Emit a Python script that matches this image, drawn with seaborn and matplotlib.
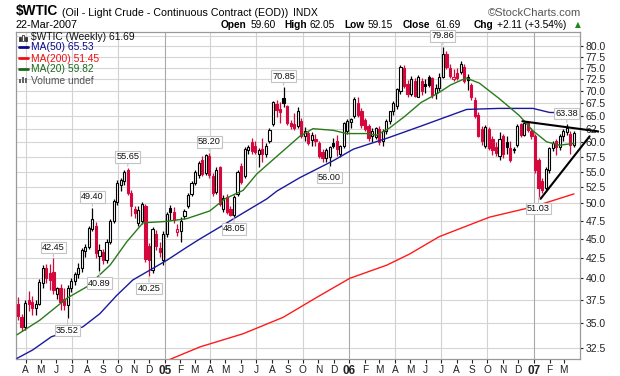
import numpy as np
import pandas as pd
import matplotlib
matplotlib.use('Agg')
import matplotlib.pyplot as plt
import matplotlib.dates as mdates
import seaborn as sns

# ---------------- data ----------------
first_week = '2004-03-17'
prev_close_first = 37.6
open_ = [37.1, 35.6, 34.6, 37.5, 37.3, 36.6, 37.0, 39.4, 41.2, 40.6,
         40.8, 38.2, 38.8, 37.6, 36.9, 38.9, 39.7, 40.5, 41.2, 43.4,
         43.9, 46.4, 46.8, 42.8, 43.3, 42.3, 44.6, 47.5, 50.2, 52.9,
         53.5, 55.2, 51.6, 49.2, 47.2, 47.4, 49.6, 44.0, 41.0, 45.6,
         43.8, 42.2, 45.7, 49.3, 48.8, 45.9, 46.1, 48.2, 49.6, 51.5,
         53.2, 54.4, 57.0, 54.8, 57.6, 54.3, 51.7, 55.8, 49.2, 51.0,
         49.2, 48.3, 51.5, 55.9, 54.3, 58.6, 60.0, 59.3, 57.9, 58.9,
         57.9, 60.2, 63.3, 67.3, 66.2, 68.4, 66.8, 63.6, 63.3, 63.0,
         64.0, 61.1, 61.7, 60.4, 60.6, 59.9, 58.3, 57.3, 57.4, 59.9,
         60.3, 57.9, 59.4, 62.1, 63.8, 64.9, 67.4, 65.8, 64.2, 63.0,
         61.2, 61.0, 62.5, 60.2, 62.0, 63.9, 65.8, 66.8, 69.9, 75.0,
         71.4, 69.4, 72.0, 68.8, 72.0, 71.4, 73.0, 72.6, 69.6, 70.5,
         73.0, 78.0, 75.0, 72.4, 73.7, 74.1, 75.1, 73.0, 71.3, 68.0,
         65.2, 62.4, 59.4, 62.4, 60.6, 59.2, 57.6, 61.2, 60.0, 59.0,
         58.6, 59.6, 63.4, 61.4, 63.6, 62.0, 61.2, 57.0, 53.4, 52.4,
         55.2, 59.0, 60.2, 59.2, 61.2, 61.8, 61.6, 59.60]
high = [37.8, 36.0, 37.5, 38.5, 37.9, 37.5, 39.9, 41.6, 41.8, 41.7,
        42.45, 39.0, 39.3, 38.8, 39.2, 40.0, 40.8, 41.9, 43.8, 44.3,
        46.8, 49.40, 47.3, 44.3, 43.6, 45.0, 47.8, 50.6, 53.6, 54.0,
        55.3, 55.65, 52.0, 49.6, 49.6, 50.2, 49.9, 44.4, 46.6, 46.2,
        44.6, 46.0, 48.8, 49.8, 49.5, 47.0, 48.0, 49.2, 51.6, 53.4,
        55.2, 56.8, 57.6, 58.0, 58.20, 54.8, 55.8, 56.0, 51.3, 51.4,
        49.6, 51.3, 55.3, 56.4, 59.2, 59.6, 60.8, 60.2, 59.0, 60.8,
        59.8, 62.7, 67.9, 68.0, 67.6, 70.85, 67.1, 64.2, 65.5, 66.6,
        64.5, 62.8, 62.0, 61.8, 61.6, 60.3, 58.8, 59.0, 59.4, 60.8,
        61.4, 59.6, 63.8, 64.4, 64.6, 68.8, 68.6, 66.4, 64.6, 63.4,
        62.6, 62.8, 63.0, 62.4, 64.3, 65.9, 67.8, 70.6, 75.6, 75.6,
        72.2, 73.2, 72.6, 73.4, 72.8, 72.4, 73.4, 72.9, 71.4, 73.8,
        79.86, 78.8, 75.8, 74.6, 75.0, 76.6, 75.8, 73.6, 71.6, 68.6,
        65.6, 63.0, 63.2, 62.8, 61.2, 60.0, 61.8, 61.6, 61.2, 60.2,
        59.2, 63.4, 63.6, 63.8, 64.0, 62.6, 61.6, 57.2, 54.0, 55.8,
        59.2, 60.2, 60.6, 61.6, 62.4, 63.38, 62.0, 62.05]
low = [35.3, 34.2, 34.3, 36.3, 35.8, 35.8, 36.9, 38.9, 39.4, 38.6,
       38.2, 37.6, 36.4, 36.4, 35.52, 38.4, 39.2, 40.0, 40.8, 42.6,
       43.6, 46.0, 42.5, 40.89, 41.8, 41.9, 44.3, 47.2, 49.8, 51.9,
       52.8, 51.3, 48.2, 47.9, 46.8, 47.0, 42.0, 40.25, 40.6, 43.5,
       42.6, 41.6, 45.2, 47.6, 47.2, 45.4, 44.6, 47.8, 49.3, 51.2,
       52.8, 54.0, 54.2, 54.4, 54.0, 51.2, 51.4, 49.6, 48.8, 48.4,
       48.1, 48.05, 51.2, 53.0, 54.0, 58.0, 58.0, 57.9, 55.8, 56.6,
       57.5, 59.8, 63.0, 64.8, 63.6, 66.6, 63.2, 62.4, 62.2, 62.6,
       60.8, 60.2, 59.6, 59.4, 59.4, 57.2, 56.6, 56.6, 56.00, 59.0,
       57.6, 57.4, 59.0, 61.6, 62.6, 64.6, 64.8, 62.6, 62.0, 60.2,
       60.0, 60.6, 59.6, 59.4, 61.6, 63.4, 65.2, 66.3, 69.4, 70.6,
       68.8, 69.0, 68.6, 68.6, 69.2, 69.6, 70.8, 68.4, 68.2, 70.0,
       72.6, 74.6, 72.6, 72.0, 72.2, 73.6, 71.6, 70.2, 68.0, 64.6,
       61.0, 59.6, 59.0, 58.6, 57.8, 57.6, 57.0, 57.2, 58.0, 56.6,
       58.2, 59.2, 61.0, 61.2, 61.8, 60.6, 54.8, 51.03, 51.6, 52.0,
       54.8, 58.4, 57.8, 58.6, 60.2, 61.4, 58.0, 59.15]
close = [35.7, 34.6, 37.2, 37.0, 36.6, 37.0, 39.6, 41.2, 40.0, 39.8,
         38.6, 38.9, 37.3, 36.9, 38.9, 39.7, 40.5, 41.3, 43.5, 43.9,
         46.5, 47.8, 43.1, 43.5, 42.2, 44.6, 47.5, 50.3, 53.2, 53.7,
         55.0, 51.6, 49.6, 48.6, 49.1, 49.9, 42.4, 42.2, 46.3, 44.0,
         43.3, 45.6, 48.5, 48.7, 47.6, 46.4, 47.5, 48.9, 51.3, 53.1,
         54.9, 56.5, 54.6, 57.8, 54.4, 51.6, 55.3, 49.9, 50.8, 48.7,
         48.3, 51.0, 55.0, 53.3, 58.8, 59.2, 58.5, 58.3, 58.6, 57.9,
         59.3, 62.3, 67.6, 66.0, 65.6, 67.5, 63.6, 63.0, 62.6, 65.8,
         61.1, 62.0, 59.9, 61.3, 60.2, 57.6, 57.2, 58.7, 59.1, 59.4,
         58.9, 59.3, 63.5, 63.9, 64.3, 68.2, 65.2, 63.1, 62.4, 60.7,
         62.0, 62.6, 60.0, 62.0, 63.9, 65.8, 67.5, 70.4, 75.1, 70.9,
         69.4, 72.5, 69.0, 73.0, 69.9, 71.0, 71.2, 69.2, 70.5, 73.0,
         78.0, 75.2, 73.2, 73.0, 72.6, 75.7, 72.0, 72.3, 68.8, 64.9,
         61.1, 60.3, 62.8, 59.0, 58.6, 58.2, 60.6, 58.0, 59.2, 57.0,
         58.9, 63.0, 61.4, 63.5, 62.2, 61.1, 55.2, 52.3, 52.1, 55.4,
         59.0, 59.9, 59.1, 61.2, 62.0, 62.6, 59.58, 61.69]

ma50_dates = ['2004-03-15', '2004-04-15', '2004-05-22', '2004-07-23', '2004-08-26',
              '2004-09-28', '2004-10-30', '2004-12-03', '2005-01-05', '2005-02-14',
              '2005-03-12', '2005-04-20', '2005-06-05', '2005-07-22', '2005-08-11',
              '2005-09-25', '2005-11-30', '2006-01-09', '2006-03-18', '2006-05-23',
              '2006-08-21', '2006-10-24', '2006-12-30', '2007-02-01', '2007-03-21']
ma50_vals = [31.5, 32.3, 33.6, 34.6, 36.0, 38.0, 39.8, 41.0, 42.2, 43.9,
             45.0, 46.6, 48.6, 50.7, 51.9, 54.0, 56.8, 58.8, 60.8, 63.0,
             66.2, 66.4, 66.4, 65.6, 65.53]

ma200_dates = ['2005-01-06', '2005-03-12', '2005-06-05', '2005-08-23', '2005-10-29',
               '2006-01-02', '2006-03-16', '2006-04-30', '2006-06-28', '2006-10-05',
               '2006-12-30', '2007-03-21']
ma200_vals = [31.3, 32.6, 33.9, 35.6, 37.8, 40.0, 41.6, 43.0, 45.3, 48.0, 49.5, 51.45]

ma20_dates = ['2004-03-15', '2004-04-29', '2004-06-22', '2004-07-31', '2004-09-15',
              '2004-10-18', '2004-11-19', '2005-01-05', '2005-02-14', '2005-03-31',
              '2005-04-30', '2005-06-05', '2005-07-02', '2005-08-23', '2005-09-25',
              '2005-10-21', '2005-11-30', '2005-12-27', '2006-02-04', '2006-02-24',
              '2006-03-21', '2006-04-20', '2006-05-23', '2006-06-24', '2006-07-20',
              '2006-08-20', '2006-09-15', '2006-10-24', '2006-12-03', '2006-12-29',
              '2007-01-26', '2007-02-21', '2007-03-21']
ma20_vals = [33.8, 35.3, 37.7, 39.0, 41.6, 44.6, 47.2, 47.4, 47.8, 48.9,
             50.7, 52.0, 54.6, 58.5, 61.1, 62.5, 62.2, 61.6, 61.6, 61.3,
             62.6, 64.8, 67.6, 69.4, 71.2, 72.7, 71.6, 68.4, 65.0, 62.2,
             60.1, 59.5, 59.82]

trend_upper_dates = ['2006-12-09', '2007-05-08']
trend_upper_vals = [63.9, 62.0]
trend_lower_dates = ['2007-01-14', '2007-04-21']
trend_lower_vals = [50.7, 61.1]

label_bars = [10, 14, 21, 23, 31, 37, 54, 61, 75, 88, 120, 147, 155]
label_sides = ['H', 'L', 'H', 'L', 'H', 'L', 'H', 'L', 'H', 'L', 'H', 'L', 'H']

month_labels = ['A', 'M', 'J', 'J', 'A', 'S', 'O', 'N', 'D', '05', 'F', 'M',
                'A', 'M', 'J', 'J', 'A', 'S', 'O', 'N', 'D', '06', 'F', 'M',
                'A', 'M', 'J', 'J', 'A', 'S', 'O', 'N', 'D', '07', 'F', 'M']
first_month = '2004-04-01'
ytick_vals = [32.5, 35.0, 37.5, 40.0, 42.5, 45.0, 47.5, 50.0, 52.5, 55.0,
              57.5, 60.0, 62.5, 65.0, 67.5, 70.0, 72.5, 75.0, 77.5, 80.0]

# ---------------- styling ----------------
sns.set_style('white')
plt.rcParams['font.family'] = ['Liberation Sans', 'DejaVu Sans']

RED = '#d4083c'
BLUE = '#1a1a9c'
MA_RED = '#ff1a1a'
GREEN = '#2a7a1a'

W, H = 620, 376
fig = plt.figure(figsize=(W / 100, H / 100), dpi=100)
L_, R_, T_, B_ = 16, 580, 32, 359
ax = fig.add_axes([L_ / W, 1 - B_ / H, (R_ - L_) / W, (B_ - T_) / H])


def fx(px):
    return px / W


def fy(py):
    return 1 - py / H


# moving averages with seaborn
sns.lineplot(x=pd.to_datetime(ma50_dates), y=ma50_vals, ax=ax, color=BLUE, lw=1.0, zorder=5)
sns.lineplot(x=pd.to_datetime(ma200_dates), y=ma200_vals, ax=ax, color=MA_RED, lw=1.0, zorder=5)
sns.lineplot(x=pd.to_datetime(ma20_dates), y=ma20_vals, ax=ax, color=GREEN, lw=1.0, zorder=5)

# candles
dates = pd.date_range(first_week, periods=len(close), freq='7D')
xn = mdates.date2num(dates)
o = np.array(open_)
hh = np.array(high)
ll = np.array(low)
c = np.array(close)
prev = np.r_[prev_close_first, c[:-1]]
edge = np.where(c < prev, RED, '#000000')
face = np.where(c > o, '#ffffff', edge)
ax.vlines(xn, ll, hh, colors=edge, lw=0.9, zorder=3)
ax.bar(xn, np.maximum(np.abs(c - o), 0.08), bottom=np.minimum(o, c), width=4.3,
       color=face, edgecolor=edge, linewidth=0.8, zorder=4)

# trend lines
ax.plot(mdates.date2num(pd.to_datetime(trend_upper_dates)), trend_upper_vals,
        color='black', lw=1.5, zorder=6, clip_on=False)
ax.plot(mdates.date2num(pd.to_datetime(trend_lower_dates)), trend_lower_vals,
        color='black', lw=1.5, zorder=6, clip_on=False)

# scales
ax.set_yscale('log')
ax.set_ylim(31.44, 83.4)
ax.set_xlim(mdates.date2num(pd.Timestamp('2004-03-13')), mdates.date2num(pd.Timestamp('2007-04-02')))
ax.set_xlabel('')
ax.set_ylabel('')

# horizontal grid
for v in ytick_vals + [82.5]:
    ax.axhline(v, color='#d6d6d6', lw=0.8, zorder=0)

months = pd.date_range(first_month, periods=len(month_labels), freq='MS')
mnum = mdates.date2num(months)
for m, d in zip(mnum, months):
    if d.month in (1, 4, 7, 10):
        ax.axvline(m, color='#a9a9a9' if d.month == 1 else '#d2d2d2', lw=0.8, zorder=0)

ax.yaxis.tick_right()
ax.yaxis.set_minor_locator(matplotlib.ticker.NullLocator())
ax.set_yticks(ytick_vals)
ax.set_yticklabels([f'{v:.1f}' for v in ytick_vals])
ax.tick_params(axis='y', which='major', right=True, length=2.5, width=0.8, pad=1.5,
               labelsize=7.5, colors='#222222')
ax.set_xticks(mnum)
ax.set_xticklabels(month_labels)
ax.tick_params(axis='x', which='major', bottom=True, length=3, width=0.8, pad=1.5,
               labelsize=7.3, colors='#222222')
for t, lab in zip(ax.get_xticklabels(), month_labels):
    if lab.isdigit():
        t.set_fontweight('bold')
        t.set_fontsize(8.5)
ax.xaxis.set_minor_locator(matplotlib.ticker.NullLocator())
for s in ['left', 'bottom', 'right', 'top']:
    ax.spines[s].set_visible(True)
    ax.spines[s].set_color('#9a9a9a')
    ax.spines[s].set_linewidth(0.9)
ax.set_facecolor('white')
if ax.get_legend() is not None:
    ax.get_legend().remove()

# high/low labels
for i, side in zip(label_bars, label_sides):
    val = hh[i] if side == 'H' else ll[i]
    dy = 4.4 if side == 'H' else -5.5
    ax.annotate(f'{val:.2f}', xy=(xn[i], val), xytext=(0, dy), textcoords='offset points',
                ha='center', va='bottom' if side == 'H' else 'top', fontsize=6.6, color='#111111',
                bbox=dict(boxstyle='square,pad=0.12', fc='white', ec='#c4c4c4', lw=0.8),
                arrowprops=dict(arrowstyle='-', color='#c4c4c4', lw=0.8, shrinkA=0, shrinkB=1.0),
                zorder=8)

# legend (inside plot, top-left)
leg_x = 31
fig.text(fx(leg_x), fy(39.5), '$WTIC (Weekly) 61.69', fontsize=7.4, color='#111111', va='baseline')
fig.text(fx(leg_x), fy(50.5), 'MA(50) 65.53', fontsize=7.4, color='#0a0a8a', va='baseline')
fig.text(fx(leg_x), fy(61.5), 'MA(200) 51.45', fontsize=7.4, color='#ee1111', va='baseline')
fig.text(fx(leg_x), fy(72.5), 'MA(20) 59.82', fontsize=7.4, color='#1a6a1a', va='baseline')
fig.text(fx(leg_x), fy(83.5), 'Volume undef', fontsize=7.4, color='#555555', va='baseline')
for yy, col in [(47, '#0a0a8a'), (58, '#ee1111'), (69, '#1a6a1a')]:
    fig.add_artist(matplotlib.lines.Line2D([fx(19.5), fx(28)], [fy(yy), fy(yy)], color=col, lw=2.0))
# small candle icon
for xx, y0, y1, fc_ in [(20, 36.5, 40.5, '#333333'), (23, 35.0, 40.5, 'white'), (26, 37.0, 40.5, '#333333')]:
    fig.add_artist(matplotlib.patches.Rectangle((fx(xx - 1), fy(y1)), 2 / W, (y1 - y0) / H,
                                                fc=fc_, ec='#333333', lw=0.6))
for xx, hgt in [(20, 4), (23, 6), (26, 5)]:
    fig.add_artist(matplotlib.patches.Rectangle((fx(xx - 1), fy(83)), 2 / W, hgt / H,
                                                fc='#666666', ec='none'))

# header
fig.text(fx(16), fy(15.5), '$WTIC', fontsize=9.8, fontweight='bold', color='black', va='baseline')
fig.text(fx(62), fy(15.5), '(Oil - Light Crude - Continuous Contract (EOD))', fontsize=7.7,
         color='black', va='baseline')
fig.text(fx(293), fy(15.5), 'INDX', fontsize=7.5, color='black', va='baseline')
fig.text(fx(581), fy(15.5), '\u00a9StockCharts.com', fontsize=8.0, color='#555555', va='baseline', ha='right')
fig.text(fx(16), fy(27.5), '22-Mar-2007', fontsize=7.8, color='black', va='baseline')
pieces = [(221, 'Open', True), (251, '59.60', False), (284, 'High', True), (310, '62.05', False),
          (344, 'Low', True), (368, '59.15', False), (403, 'Close', True), (436, '61.69', False),
          (474, 'Chg', True), (497, '+2.11 (+3.54%)', False)]
for px_, txt, bold in pieces:
    fig.text(fx(px_), fy(27.5), txt, fontsize=7.3, fontweight='bold' if bold else 'normal',
             color='black', va='baseline')
fig.text(fx(574.5), fy(27.0), '\u25b2', fontsize=5.5, color='#1a8a1a', va='baseline', family='DejaVu Sans')

fig.savefig('out.png', dpi=100)
